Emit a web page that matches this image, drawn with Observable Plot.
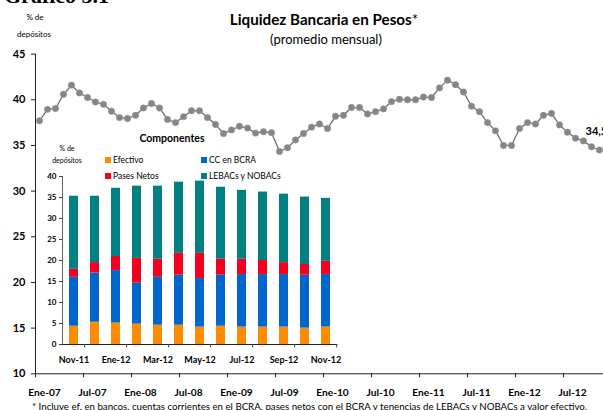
<!DOCTYPE html>
<html><head><meta charset="utf-8">
<script src="https://cdn.jsdelivr.net/npm/d3@7"></script>
<script src="https://cdn.jsdelivr.net/npm/@observablehq/plot@0.6"></script>
<style>
body{margin:0;background:#fff;}
#wrap{position:relative;width:603px;height:410px;overflow:hidden;font-family:Lato,"Open Sans",sans-serif;color:#000;}
#wrap svg{position:absolute;left:0;top:0;}
.t{position:absolute;white-space:nowrap;transform:translate(-50%,-50%);line-height:1;}
.l{position:absolute;white-space:nowrap;transform:translate(0,-50%);line-height:1;}
.sw{position:absolute;width:6px;height:6px;transform:translate(0,-50%);}
</style></head><body><div id="wrap"></div>
<script>
// ---- Data ----
const mesesAbr = ["Ene","Feb","Mar","Abr","May","Jun","Jul","Ago","Sep","Oct","Nov","Dic"];
const meses = d3.range(71).map(i => mesesAbr[i % 12] + "-" + String(7 + Math.floor(i / 12)).padStart(2, "0"));
const liquidez = [37.7,38.95,39.05,40.6,41.6,40.75,40.25,39.75,39.5,38.75,38.05,37.95,
  38.3,39.1,39.6,39.1,37.85,37.5,38.15,38.8,38.8,38.05,37.3,36.3,
  36.7,37.1,36.9,36.35,36.5,36.4,34.35,34.75,35.6,36.3,37.0,37.35,
  36.85,38.2,38.3,39.15,39.15,38.45,38.7,39.0,39.8,40.05,40.0,40.0,
  40.3,40.25,41.3,42.15,41.65,40.85,39.3,38.7,37.5,36.6,35.0,35.0,
  36.85,37.5,37.35,38.3,38.5,37.25,36.45,35.8,35.5,34.85,34.5];
const etiquetasX = ["Ene-07","Jul-07","Ene-08","Jul-08","Ene-09","Jul-09","Ene-10","Jul-10","Ene-11","Jul-11","Ene-12","Jul-12"];
const ticksY = [10,15,20,25,30,35,40,45];

const categoriasInset = ["Nov-11","Dic-11","Ene-12","Feb-12","Mar-12","Abr-12","May-12","Jun-12","Jul-12","Ago-12","Sep-12","Oct-12","Nov-12"];
const etiquetasInset = ["Nov-11","Ene-12","Mar-12","May-12","Jul-12","Sep-12","Nov-12"];
const componentes = ["Efectivo","CC en BCRA","Pases Netos","LEBACs y NOBACs"];
const coloresComp = ["#FF8C00","#0066CC","#F5001E","#008080"];
const efectivo = [4.35,5.3,5.1,4.85,4.6,4.6,4.15,4.35,4.15,4.15,4.15,3.9,4.15];
const ccBcra   = [11.65,11.7,12.5,9.75,11.4,11.9,11.55,12.15,12.5,12.5,12.5,12.6,12.5];
const pases    = [1.9,2.5,3.35,5.9,4.3,5.2,6.0,3.8,3.65,3.35,2.85,2.55,3.15];
const lebacs   = [17.4,15.8,16.25,17.2,17.4,16.95,17.2,17.15,16.4,16.3,16.3,16.05,15.0];
const ticksYInset = [0,5,10,15,20,25,30,35,40];

// ---- Build tables ----
const serie = meses.map((m, i) => ({mes: m, v: liquidez[i]}));
const series = [efectivo, ccBcra, pases, lebacs];
const barras = [];
componentes.forEach((c, j) => categoriasInset.forEach((cat, i) => barras.push({cat, comp: c, v: series[j][i]})));
const tickMeses = meses.filter((m, i) => i % 6 === 0);

const wrap = document.getElementById("wrap");

// ---- Main chart ----
const main = Plot.plot({
  width: 603, height: 410,
  marginLeft: 35, marginRight: 0, marginTop: 53.6, marginBottom: 36.7,
  style: {background: "transparent", fontFamily: "Lato, sans-serif", color: "#000"},
  x: {type: "point", domain: meses, padding: 0.5},
  y: {domain: [10, 45]},
  marks: [
    Plot.frame({anchor: "left", stroke: "#222"}),
    Plot.ruleY([10], {stroke: "#222"}),
    Plot.ruleX(tickMeses, {x: d => d, dx: -4, y1: 10, y2: 9.55, stroke: "#222"}),
    Plot.axisY({ticks: ticksY, tickSize: 4, tickPadding: 6, label: null, fontSize: 11, fontWeight: "bold", stroke: "#222"}),
    Plot.axisX({ticks: etiquetasX, tickSize: 0, tickPadding: 15, label: null, fontSize: 10.2, fontWeight: "bold", dx: 5}),
    Plot.line(serie, {x: "mes", y: "v", stroke: "#707070", strokeWidth: 1.3}),
    Plot.dot(serie, {x: "mes", y: "v", r: 3.2, fill: "#858585", stroke: "#9a9a9a", strokeWidth: 0.6}),
    Plot.text(serie.slice(-1), {x: "mes", y: "v", text: d => String(d.v).replace(".", ","), dx: -14, dy: -19, textAnchor: "start", fontWeight: "bold", fontSize: 11})
  ]
});
wrap.appendChild(main);

// ---- Inset chart ----
const inset = Plot.plot({
  width: 345, height: 372,
  marginLeft: 62, marginRight: 7.6, marginTop: 176, marginBottom: 28,
  style: {background: "transparent", fontFamily: "Lato, sans-serif", color: "#000"},
  x: {type: "band", domain: categoriasInset, paddingInner: 0.575, paddingOuter: 0.283},
  y: {domain: [0, 40]},
  color: {domain: componentes, range: coloresComp},
  marks: [
    Plot.barY(barras, {x: "cat", y: "v", fill: "comp", order: componentes}),
    Plot.frame({anchor: "left", stroke: "#666"}),
    Plot.ruleY([0], {stroke: "#222"}),
    Plot.ruleX(etiquetasInset, {x: d => d, dx: 10.6, y1: 0, y2: -0.8, stroke: "#444"}),
    Plot.axisY({ticks: ticksYInset, tickSize: 3, tickPadding: 3, label: null, fontSize: 8, fontWeight: "bold", stroke: "#444"}),
    Plot.axisX({ticks: etiquetasInset, tickSize: 0, tickPadding: 12, label: null, fontSize: 9, fontWeight: "bold"})
  ]
});
wrap.appendChild(inset);

// ---- Texts ----
function add(cls, x, y, html, style) {
  const d = document.createElement("div");
  d.className = cls; d.style.left = x + "px"; d.style.top = y + "px";
  d.innerHTML = html; if (style) d.style.cssText += style;
  wrap.appendChild(d); return d;
}
add("l", 4, -4, "Gráfico 3.1", "font-family:'Liberation Serif',serif;font-weight:bold;font-size:22px;");
add("t", 324, 20, "<b>Liquidez Bancaria en Pesos</b>*", "font-size:15.2px;");
add("t", 326, 38.5, "(promedio mensual)", "font-size:13px;");
add("t", 35, 17, "% de", "font-size:8px;");
add("t", 34, 34, "depósitos", "font-size:8px;");
add("l", 32, 406.5, "* Incluye ef. en bancos, cuentas corrientes en el BCRA, pases netos con el BCRA y tenencias de LEBACs y NOBACs a valor efectivo.", "font-size:9.7px;");
// inset legend
add("t", 172, 138, "<b>Componentes</b>", "font-size:10.5px;");
add("t", 67, 148, "% de", "font-size:7px;");
add("t", 67, 160, "depósitos", "font-size:7px;");
const legPos = [[105, 160], [201, 160], [105, 176], [201, 176]];
componentes.forEach((c, j) => {
  const s = add("sw", legPos[j][0], legPos[j][1], "");
  s.style.background = coloresComp[j];
  add("l", legPos[j][0] + 8, legPos[j][1], c, "font-size:8.5px;");
});
</script></body></html>
